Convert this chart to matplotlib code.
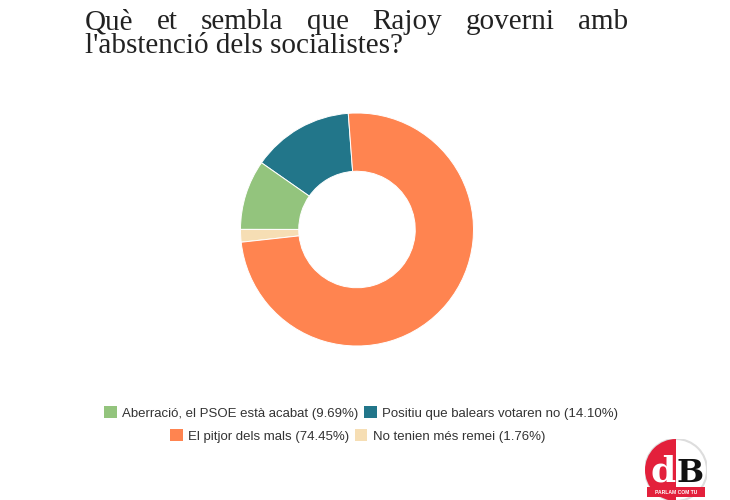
import matplotlib
matplotlib.use('Agg')
import matplotlib.pyplot as plt
from matplotlib.patches import Patch, Wedge, Circle, Rectangle

# data (legend order)
labels = ['Aberració, el PSOE està acabat', 'Positiu que balears votaren no',
          'El pitjor dels mals', 'No tenien més remei']
values = [9.69, 14.10, 74.45, 1.76]
colors = ['#93c47d', '#22768a', '#ff8450', '#f6deb4']

title_line1 = ['Què', 'et', 'sembla', 'que', 'Rajoy', 'governi', 'amb']
title_line2 = "l'abstenció dels socialistes?"

W, H = 730, 500
fig = plt.figure(figsize=(W / 100, H / 100), dpi=100)

# donut, drawn counter clockwise from just left of the top: teal, green, beige, orange
order = [1, 0, 3, 2]
cx, cy, r = 357, 229.5, 116.5
ax = fig.add_axes([(cx - r) / W, (H - cy - r) / H, 2 * r / W, 2 * r / H])
ax.pie([values[i] for i in order], colors=[colors[i] for i in order],
       startangle=94.3, counterclock=True,
       wedgeprops=dict(width=0.5, edgecolor='white', linewidth=0.7))
ax.set_xlim(-1, 1)
ax.set_ylim(-1, 1)
ax.set_aspect('equal')
ax.axis('off')

# title, first line justified
renderer = fig.canvas.get_renderer()
tkw = dict(family='Liberation Serif', fontsize=21, color='#222222', va='baseline')
x0, x1 = 85, 628
words = [fig.text(0, 1 - 29 / H, w, **tkw) for w in title_line1]
widths = [t.get_window_extent(renderer).width for t in words]
gap = (x1 - x0 - sum(widths)) / (len(words) - 1)
x = x0
for t, w in zip(words, widths):
    t.set_x(x / W)
    x += w + gap
fig.text(x0 / W, 1 - 53 / H, title_line2, **tkw)

# legend, two centred rows
handles = [Patch(facecolor=c, edgecolor='none') for c in colors]
texts = ['%s (%.2f%%)' % (l, v) for l, v in zip(labels, values)]
lkw = dict(loc='center', ncol=2, frameon=False, handlelength=0.95, handleheight=0.95,
           handletextpad=0.4, columnspacing=0.45, borderpad=0, borderaxespad=0,
           prop={'family': 'Liberation Sans', 'size': 9.5}, labelcolor='#333333')
leg1 = fig.legend(handles[:2], texts[:2], bbox_to_anchor=(361 / W, 1 - 413 / H), **lkw)
leg2 = fig.legend(handles[2:], texts[2:], bbox_to_anchor=(357.5 / W, 1 - 436 / H), **lkw)

# logo
lx, ly, lr = 676, 470, 31
lax = fig.add_axes([(lx - lr) / W, (H - ly - lr) / H, 2 * lr / W, 2 * lr / H])
lax.set_xlim(-1, 1)
lax.set_ylim(-1, 1)
lax.set_aspect('equal')
lax.axis('off')
lax.add_patch(Circle((0, 0), 1, facecolor='white', edgecolor='#dddddd', linewidth=1.5))
lax.add_patch(Wedge((0, 0), 1, 90, 270, facecolor='#e3203b', edgecolor='none'))
lax.text(-0.02, -0.38, 'd', ha='right', va='baseline', family='DejaVu Serif',
         weight='bold', fontsize=26, color='white')
lax.text(0.02, -0.38, 'B', ha='left', va='baseline', family='DejaVu Serif',
         weight='bold', fontsize=23, color='#111111')
lax.add_patch(Rectangle((-0.95, -0.86), 1.9, 0.3, facecolor='#e3203b', edgecolor='none'))
lax.text(0, -0.71, 'PARLAM COM TU', ha='center', va='center', family='Liberation Sans',
         weight='bold', fontsize=3.6, color='white')

fig.savefig('out.png', dpi=100, facecolor='white')
